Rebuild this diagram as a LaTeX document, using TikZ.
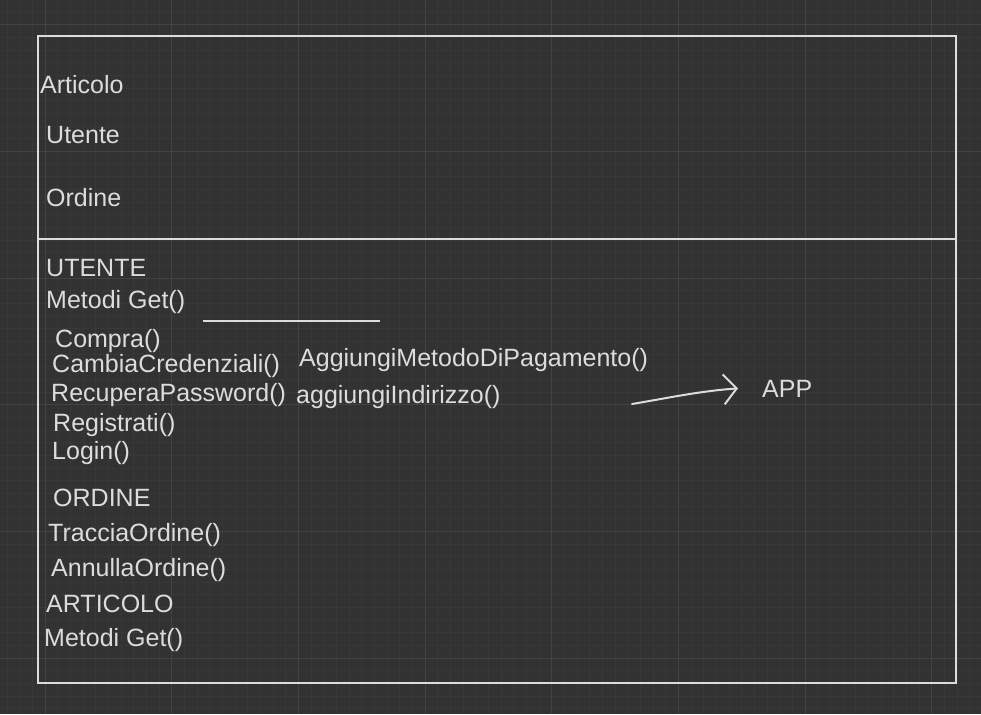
\documentclass[tikz,border=0pt]{standalone}
\usepackage{fontspec}
\setmainfont{Liberation Sans}
\usetikzlibrary{arrows.meta}
\definecolor{bg}{HTML}{323232}\definecolor{minor}{HTML}{383838}\definecolor{major}{HTML}{434343}\definecolor{ink}{HTML}{DCDCDC}
\tikzset{lbl/.style={anchor=base west,inner sep=0pt,text=ink,font=\fontsize{25}{30}\selectfont},frame/.style={draw=ink,line width=2pt},arr/.style={-{Straight Barb[length=13pt,width=30pt]},draw=ink,line width=2pt,line cap=round}}
\begin{document}
\begin{tikzpicture}[x=1pt,y=-1pt]
\fill[bg](0,0)rectangle(981,714);\useasboundingbox(0,0)rectangle(981,714);
\foreach\x in{6.7,19.37,...,981}\draw[minor](\x,0)--(\x,714);
\foreach\y in{11.7,24.37,...,714}\draw[minor](0,\y)--(981,\y);
\foreach\x in{44.7,171.4,...,981}\draw[major](\x,0)--(\x,714);
\foreach\y in{24.3,151,...,714}\draw[major](0,\y)--(981,\y);
\coordinate(nw)at(38,36);\coordinate(se)at(956,683);
\coordinate(dl)at(38,239);\coordinate(dr)at(956,239);
\draw[frame](nw)rectangle(se);\draw[frame](dl)--(dr);
\foreach\n/\x/\y/\t in{art/40/94/Articolo,ute/46/144/Utente,ord/46/206/Ordine,
uteT/46/276/UTENTE,getU/46/308/Metodi Get(),compra/55/347/Compra(),cambia/52/372/CambiaCredenziali(),
recupera/51/401/RecuperaPassword(),registrati/53/431/Registrati(),login/52/459/Login(),
ordT/53/506/ORDINE,traccia/48/541/TracciaOrdine(),annulla/51/576/AnnullaOrdine(),
artT/46/612/ARTICOLO,getA/44/646/Metodi Get(),
pagamento/299/366/AggiungiMetodoDiPagamento(),indirizzo/296/403/aggiungiIndirizzo(),app/762/397/APP}
\node[lbl](\n)at(\x,\y){\t};
\coordinate(u1)at(203,321);\coordinate(u2)at(380,321);
\draw[frame](u1)--(u2);
\coordinate(tail)at(632,404);
\draw[arr](tail)..controls(668,398)and(700,391)..([xshift=-24pt]app.west);
\end{tikzpicture}
\end{document}
